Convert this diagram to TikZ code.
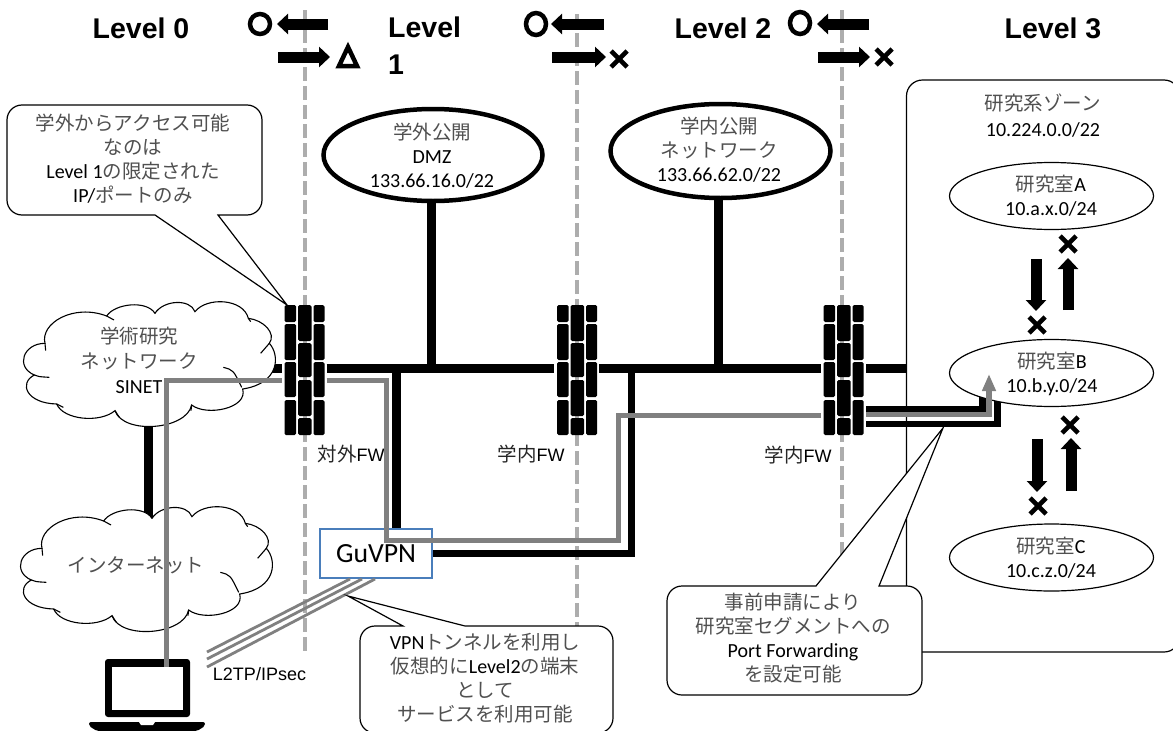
\documentclass[tikz,border=0pt]{standalone}
\usepackage{fontspec}
\setmainfont{Carlito}
\newfontfamily\jpf{Noto Sans CJK JP}
\newfontfamily\arf{Liberation Sans}
\usetikzlibrary{shapes.geometric,arrows.meta,calc}
\definecolor{jgray}{HTML}{505050}
\definecolor{vgray}{HTML}{808080}
\definecolor{dgray}{HTML}{ADADAD}
\definecolor{vpnblue}{HTML}{4A7EBB}
\newcommand{\ja}[1]{{\jpf\fontsize{19.5}{24}\selectfont\color{jgray}#1}}
\newcommand{\jb}[1]{{\jpf\fontsize{19.5}{24}\selectfont\color{black!85}#1}}
\newcommand{\cloudoutline}{%
  \draw[cloudline,fill=white] (135,190) .. controls (120,130) and (220,70) .. (320,108)
    .. controls (345,70) and (440,60) .. (465,100)
    .. controls (490,60) and (570,55) .. (585,95)
    .. controls (620,50) and (730,55) .. (745,115)
    .. controls (790,120) and (830,160) .. (808,190)
    .. controls (840,225) and (840,310) .. (728,327)
    .. controls (745,385) and (620,410) .. (575,375)
    .. controls (560,450) and (370,465) .. (345,392)
    .. controls (300,430) and (190,420) .. (170,372)
    .. controls (80,370) and (55,310) .. (103,285)
    .. controls (45,260) and (70,190) .. (135,190) -- cycle;
  \draw[cloudline] (103,285) .. controls (115,290) .. (148,292)
    (135,190) -- (137,212)
    (320,108) -- (342,120)
    (745,115) -- (752,125)
    (782,220) -- (808,190)
    (670,262) .. controls (700,270) .. (725,322)
    (575,375) -- (573,392)
    (345,392) -- (358,412)
    (170,372) -- (190,382);
}
\tikzset{
  cloudline/.style={line width=1.1pt,draw=black},
  levellab/.style={font=\arf\bfseries\fontsize{28.5}{37}\selectfont,inner sep=0pt,align=left},
  txt/.style={font=\fontsize{20}{24}\selectfont,inner sep=0pt,align=center},
  fwlab/.style={font=\arf\fontsize{18}{22}\selectfont,inner sep=0pt},
  dashline/.style={draw=dgray,line width=4pt,dash pattern=on 14pt off 5pt},
  net/.style={draw=black,line width=9pt},
  netthin/.style={draw=black,line width=7pt},
  vpnline/.style={draw=vgray,line width=5pt},
  tunnel/.style={draw=vgray,line width=2.8pt},
  bigell/.style={ellipse,draw=black,line width=4.5pt,fill=white,inner sep=0pt},
  labell/.style={ellipse,draw=black,line width=1.2pt,fill=white,inner sep=0pt,minimum width=204pt,minimum height=67pt},
  callout/.style={draw=black,line width=1.2pt,fill=white},
  barrow/.style={draw=black,line width=11pt,-{Triangle[length=11pt,width=20pt]}},
  fwbox/.style={inner sep=0pt,minimum height=130pt},
  xmk/.pic={\draw[line width=4.6pt,black] (-8,-8) -- (8,8) (-8,8) -- (8,-8);},
  fwall/.pic={
    \foreach \xa/\xb in {0/11.7,29/40}{
      \foreach \ya/\yb in {0/17,19/55,57/92,95/130}{
        \fill[black,rounded corners=1.5pt] (\xa,\ya) rectangle (\xb,\yb);}}
    \foreach \ya/\yb in {0/36,38/72,75/111,113/130}{
      \fill[black,rounded corners=1.5pt] (13.7,\ya) rectangle (27,\yb);}
  },
}
\begin{document}
\begin{tikzpicture}[x=1pt,y=-1pt]
\useasboundingbox (0,0) rectangle (1173,731);
\clip (0,0) rectangle (1173,731);
\fill[white] (0,0) rectangle (1173,731);
\coordinate (mainy) at (0,368);

% level boundaries
\draw[dashline] (305,10) -- (305,652);
\draw[dashline] (577,14) -- (577,640);
\draw[dashline] (842,10) -- (842,600);

% level labels
\node[levellab] (l0) at (141,28) {Level 0};
\node[levellab,anchor=north west] (l1) at (388,17) {Level\\1};
\node[levellab] (l2) at (723,28) {Level 2};
\node[levellab] (l3) at (1053,28) {Level 3};

% direction marks
\draw[barrow] (328,24) -- (277,24);
\draw[barrow] (278,57) -- (330,57);
\draw[black,line width=4.5pt] (260,24) circle (10pt);
\draw[black,line width=4.5pt,line join=miter] (348,47) -- (339,66) -- (357,66) -- cycle;
\draw[barrow] (604,24) -- (551,24);
\draw[barrow] (552,57) -- (606,57);
\draw[black,line width=4.5pt] (536,24) ellipse (10pt and 11pt);
\pic at (619,59) {xmk};
\draw[barrow] (869,24) -- (817,24);
\draw[barrow] (818,57) -- (870,57);
\draw[black,line width=4.5pt] (800,23) ellipse (10pt and 11pt);
\pic at (884,57) {xmk};

% research zone
\draw[draw=black,line width=1.2pt,fill=white,rounded corners=16pt] (906.5,80) rectangle (1180,652);
\node[txt] (zone) at (1043,116) {\ja{研究系ゾーン}\\[2pt]10.224.0.0/22};

% firewall anchors
\node[fwbox,minimum width=44pt] (fwa) at (304.5,370) {};
\node[fwbox,minimum width=45pt] (fwb) at (576.5,370) {};
\node[fwbox,minimum width=45pt] (fwc) at (843.5,370) {};

% GuVPN
\node[draw=vpnblue,line width=1.4pt,fill=white,minimum width=112pt,minimum height=49pt,inner sep=0pt,
      font=\fontsize{27.7}{30}\selectfont] (vpn) at (376,553.5) {GuVPN};

% ellipses on the backbone
\node[bigell,minimum width=219pt,minimum height=92pt] (dmz) at (433,155) {};
\node[bigell,minimum width=220pt,minimum height=94pt] (intra) at (720.5,151) {};
\coordinate (j1) at (396,368);
\coordinate (j2) at (631,368);
\coordinate (j3) at (431,368);
\coordinate (j4) at (718,368);
\coordinate (zonew) at (907,368);

% black backbone
\draw[net] (270,368) -- (fwa.west |- mainy);
\draw[net] (fwa.east |- mainy) -- (fwb.west |- mainy);
\draw[net] (fwb.east |- mainy) -- (fwc.west |- mainy);
\draw[net] (fwc.east |- mainy) -- (zonew);
\draw[net] (j3 |- dmz.south) -- (j3);
\draw[net] (j4 |- intra.south) -- (j4);
\draw[net] (j1) -- (vpn.north -| j1);
\draw[netthin] (j2) -- (631,553) -- (vpn.east |- 0,553);

% port forwarding band, behind the laboratory ellipse
\draw[draw=black,line width=6.5pt] (fwc.east |- 0,409) -- (982.5,409) -- (982.5,390);
\draw[draw=black,line width=6.5pt] (fwc.east |- 0,424) -- (997.5,424) -- (997.5,390);

% SINET link and clouds
\begin{scope}[shift={(0,280)},x=0.33333pt,y=-0.33333pt]
\coordinate (sinetb) at (447,430);
\coordinate (inett) at (447,710);
\end{scope}
\draw[net] (sinetb) -- (inett);
\begin{scope}[shift={(0,280)},x=0.33333pt,y=-0.33333pt]
\cloudoutline
\end{scope}
\begin{scope}[shift={(-3,485)},x=0.33333pt,y=-0.33333pt]
\cloudoutline
\end{scope}
\node[txt] (sinet) at (139,360) {\ja{学術研究}\\[1pt]\ja{ネットワーク}\\[1pt]SINET};
\node[txt] (inet) at (136,565) {\ja{インターネット}};

% firewalls
\pic at (284.5,305) {fwall};
\pic at (557,305) {fwall};
\pic at (823.5,305) {fwall};
\node[fwlab] (fwla) at (351,454) {\jb{対外}FW};
\node[fwlab] (fwlb) at (531,454) {\jb{学内}FW};
\node[fwlab] (fwlc) at (798,455) {\jb{学内}FW};

% backbone ellipse labels
\node[txt] (dmzt) at (432,156) {\ja{学外公開}\\DMZ\\133.66.16.0/22};
\node[txt] (intrat) at (719,150) {\ja{学内公開}\\\ja{ネットワーク}\\133.66.62.0/22};

% laboratories
\node[labell] (laba) at (1051.5,196) {};
\node[labell] (labb) at (1051.5,373) {};
\node[labell] (labc) at (1051.5,557.5) {};
\node[txt] (labat) at (1051,196) {\ja{研究室}A\\10.a.x.0/24};
\node[txt] (labbt) at (1052,374) {\ja{研究室}B\\10.b.y.0/24};
\node[txt] (labct) at (1051,558) {\ja{研究室}C\\10.c.z.0/24};

% lab arrows
\draw[barrow] (1036,259) -- (1036,311);
\draw[barrow] (1068,310) -- (1068,258);
\pic at (1068,244) {xmk};
\pic at (1037,325) {xmk};
\draw[barrow] (1037,439) -- (1037,492);
\draw[barrow] (1071,491) -- (1071,438);
\pic at (1070,425) {xmk};
\pic at (1038,506) {xmk};

% VPN path
\coordinate (pc) at (166,663);
\draw[vpnline,line join=miter] (pc) -- (166,380) -- (fwa.west |- 0,380);
\draw[vpnline] (fwa.east |- 0,380) -- (386,380) -- (386,540) -- (618,540) -- (618,415) -- (fwc.west |- 0,415);
\draw[draw=vgray,line width=5.5pt,-{Triangle[length=17pt,width=13pt]}] (fwc.east |- 0,414.5) -- (989,414.5) -- (989,374);

% tunnel
\draw[tunnel] (207,652) -- (350,579);
\draw[tunnel] (207,659) -- (362,579);
\draw[tunnel] (207,667) -- (375,579);
\node[fwlab] (l2tp) at (259.5,674) {L2TP/IPsec};

% laptop
\fill[black,rounded corners=3pt] (105,659) rectangle (190,717);
\fill[white] (112,667) rectangle (183,710);
\fill[vgray] (163.5,659) rectangle (168.5,667);
\fill[black,rounded corners=2pt] (89,722) -- (205,722) -- (205,726) -- (197,731) -- (97,731) -- (89,726) -- cycle;
\fill[white] (139,722) -- (155,722) -- (153,725) -- (141,725) -- cycle;

% callouts
\draw[callout] (218,215) -- (287,305) -- (155,215) [rounded corners=15pt] -- (7,215) -- (7,105) -- (262,105) -- (262,215) [sharp corners] -- (218,215) -- cycle;
\node[txt] (ca) at (133,158.5) {\ja{学外からアクセス可能}\\\ja{なのは}\\Level 1\ja{の限定された}\\IP/\ja{ポートのみ}};

\draw[callout] (403,626) -- (348,596) -- (465,626) [rounded corners=15pt] -- (613,626) -- (613,733) -- (360,733) -- (360,626) [sharp corners] -- (403,626) -- cycle;
\node[txt] (cb) at (485,678) {VPN\ja{トンネルを利用し}\\\ja{仮想的に}Level2\ja{の端末}\\\ja{として}\\\ja{サービスを利用可能}};

\draw[callout] (816,586) -- (943,428) -- (879,586) [rounded corners=15pt] -- (922,586) -- (922,695) -- (667,695) -- (667,586) [sharp corners] -- (816,586) -- cycle;
\node[txt] (cc) at (793,638) {\ja{事前申請により}\\\ja{研究室セグメントへの}\\Port Forwarding\\\ja{を設定可能}};
\end{tikzpicture}
\end{document}
